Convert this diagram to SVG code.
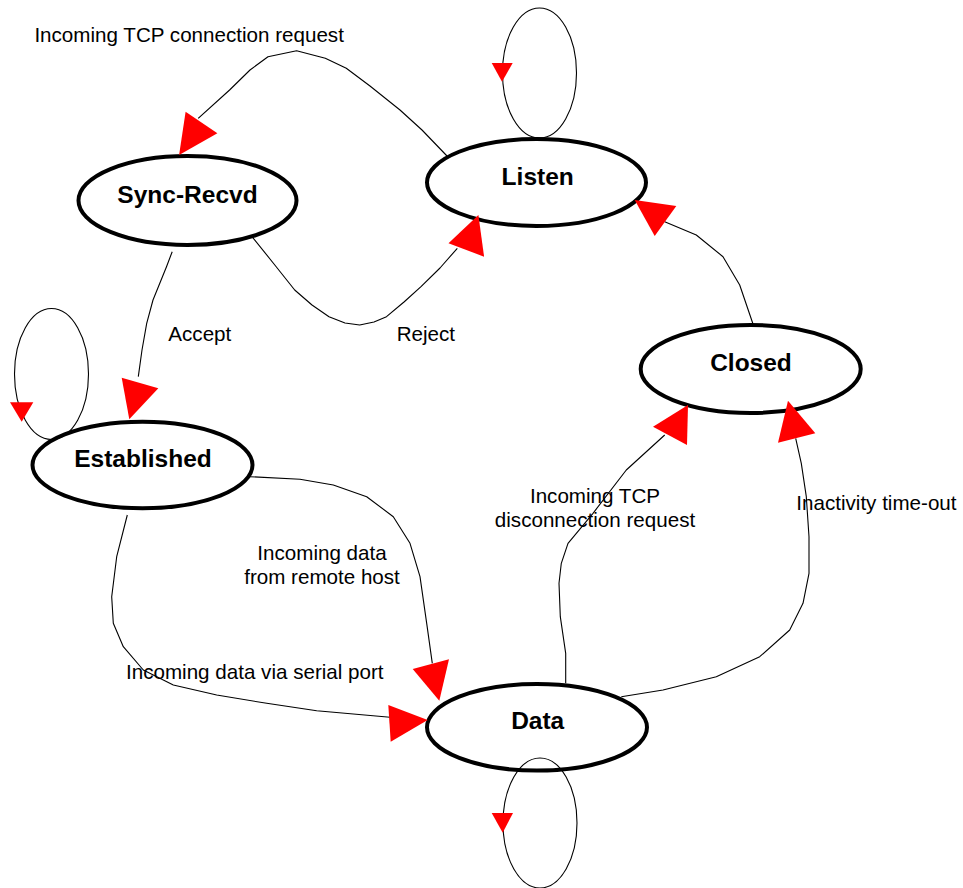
<svg xmlns="http://www.w3.org/2000/svg" width="963" height="888" viewBox="0 0 963 888">
<style>
.node ellipse{fill:#fff;stroke:#000;stroke-width:4}
.node text{font-family:"Liberation Sans",Arial,sans-serif;font-weight:bold;font-size:24.5px;text-anchor:middle;fill:#000}
.edge{fill:none;stroke:#000;stroke-width:1.1;stroke-linejoin:round}
.head{fill:#ff0000;stroke:none}
.lbl{font-family:"Liberation Sans",Arial,sans-serif;font-size:20.6px;fill:#000}
.mid{text-anchor:middle}
</style>
<rect width="963" height="888" fill="#fff"/>
<g id="node-sync-recvd" class="node">
  <ellipse cx="187.5" cy="200.5" rx="109" ry="44.5"/>
  <text x="187.5" y="202.5">Sync-Recvd</text>
</g>
<g id="node-listen" class="node">
  <ellipse cx="536.5" cy="182.5" rx="109.5" ry="43.5"/>
  <text x="537.7" y="184.5">Listen</text>
</g>
<g id="node-closed" class="node">
  <ellipse cx="750.7" cy="369" rx="110" ry="44"/>
  <text x="751" y="370.7">Closed</text>
</g>
<g id="node-established" class="node">
  <ellipse cx="142.5" cy="465" rx="110" ry="43.3"/>
  <text x="143" y="466.7">Established</text>
</g>
<g id="node-data" class="node">
  <ellipse cx="537" cy="727.3" rx="110" ry="43.3"/>
  <text x="537.7" y="729.3">Data</text>
</g>
<g id="connectors">
  <!-- self loops -->
  <ellipse class="edge" cx="539.5" cy="73" rx="37" ry="65"/>
  <polygon class="head" points="491.7,63 512.7,63 502,81.7"/>
  <ellipse class="edge" cx="51.5" cy="374" rx="37" ry="65.5"/>
  <polygon class="head" points="10,402.3 33.3,402.3 21.7,421.7"/>
  <ellipse class="edge" cx="540" cy="823" rx="37" ry="65"/>
  <polygon class="head" points="491.7,813 513,813 502.7,832.7"/>
  <!-- Listen -> Sync-Recvd -->
  <path class="edge" d="M447,156 L422,130 L400,110 L370,86 L346.3,68.3 L325.3,58.3 L296.6,50.7 L268,56.7 L250,70 L229.6,90 L198.2,118.3"/>
  <polygon class="head" points="179.1,155 185.6,111.7 217.4,133.3"/>
  <!-- Sync-Recvd -> Listen (Reject) -->
  <path class="edge" d="M252.6,237.3 L274,264 L294.7,290 L312,305 L329,316.7 L345,323 L359.7,325 L374,322 L386.5,316.7 L404,302 L421,286.7 L440,268 L457.3,248.3"/>
  <polygon class="head" points="478.4,215 448.5,243.3 484.1,256.7"/>
  <!-- Sync-Recvd -> Established (Accept) -->
  <path class="edge" d="M172.2,251.7 L166.5,266.7 L153,300 L146.7,323.3 L142,350 L138.3,376.7"/>
  <polygon class="head" points="129.3,419.3 121.7,377.7 158.3,388.3"/>
  <!-- Closed -> Listen -->
  <path class="edge" d="M753,324 L739.7,285 L723,256.7 L696.3,235 L664.7,221.7"/>
  <polygon class="head" points="634.7,200 676.3,206 654.7,236"/>
  <!-- Data -> Closed (disconnection) -->
  <path class="edge" d="M565.7,683.3 L565.7,653.3 L560.3,616.7 L559,583.3 L561.3,563.3 L568,543.3 L593,513.3 L626.3,470 L664.7,435"/>
  <polygon class="head" points="688,405 653,426.7 687,445"/>
  <!-- Data -> Closed (Inactivity) -->
  <path class="edge" d="M621.3,696.7 L663,690 L716.3,676.7 L759.7,656.7 L789.7,630 L803,603.3 L809,573.3 L809,536.7 L806.3,496.7 L801.3,463.3 L795.7,438.3"/>
  <polygon class="head" points="788,400.7 778,442.7 815.3,433.3"/>
  <!-- Established -> Data (remote host) -->
  <path class="edge" d="M250,476.7 L300,479.3 L333.3,485 L366.7,496.7 L393.3,516.7 L410,543.3 L420,576.7 L426.7,623.3 L432.3,663.3"/>
  <polygon class="head" points="439.3,700.7 412.7,669 449,659.3"/>
  <!-- Established -> Data (serial) -->
  <path class="edge" d="M127.3,515 L116.7,556.7 L111.7,596.7 L113.3,623.3 L123.3,646.7 L143.3,670 L173.3,685 L216.7,695 L266.7,703.3 L316.7,710.7 L390,717.3"/>
  <polygon class="head" points="427.7,720 388.3,705 390.7,741.7"/>
  <!-- labels -->
  <text class="lbl" x="34.4" y="42.3">Incoming TCP connection request</text>
  <text class="lbl" x="168.3" y="341">Accept</text>
  <text class="lbl" x="396.7" y="341">Reject</text>
  <text class="lbl mid" x="322" y="560">Incoming data</text>
  <text class="lbl mid" x="322" y="584">from remote host</text>
  <text class="lbl" x="126" y="679.3">Incoming data via serial port</text>
  <text class="lbl mid" x="595" y="503.3">Incoming TCP</text>
  <text class="lbl mid" x="595" y="527.3">disconnection request</text>
  <text class="lbl" x="796.3" y="510">Inactivity time-out</text>
</g>
</svg>
